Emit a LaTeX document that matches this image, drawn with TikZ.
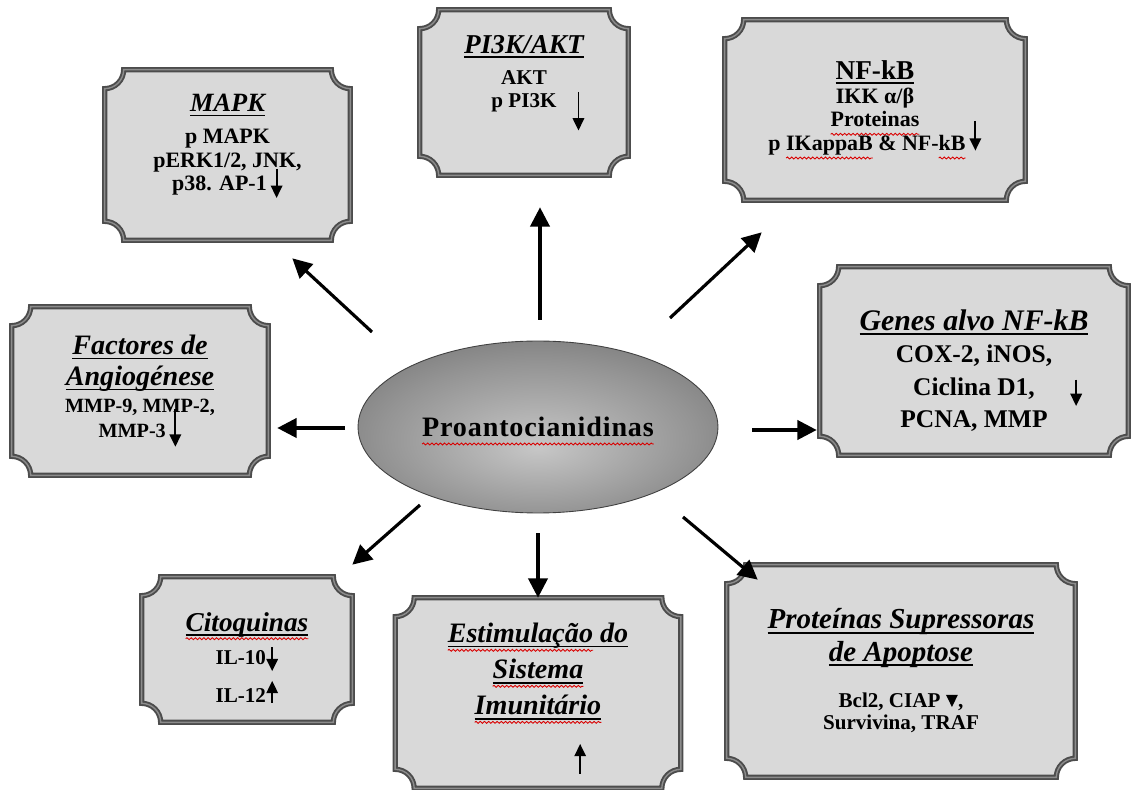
\documentclass[tikz,border=0pt]{standalone}
\usepackage{fontspec}
\setmainfont{Liberation Serif}
\usetikzlibrary{arrows.meta,shapes.geometric,calc,backgrounds,decorations.pathmorphing}

\tikzset{
  smallarr/.style={line width=1.1pt, -{Triangle[length=7pt,width=6.5pt]}},
  squig/.style={red!85!black, line width=0.5pt, decorate, decoration={snake, amplitude=0.55pt, segment length=2.4pt}}
}
\pgfdeclareradialshading{ovalshade}{\pgfpoint{0bp}{-6bp}}{color(0bp)=(black!22); color(22bp)=(black!42); color(50bp)=(black!70)}

% notch radius of the boxes
\newcommand{\notch}{0.38cm}
% small vertical arrow inside the text: [reserved depth]{from}{to}
\newcommand{\vpil}[3][0pt]{\tikz[baseline=0pt]{\path (-3.5pt,0pt) rectangle (3.5pt,#1);\draw[smallarr,overlay] (0pt,#2) -- (0pt,#3);}}
% underlined italic title
\newcommand{\ttl}[2][15]{{\fontsize{#1}{#1}\selectfont\itshape\setbox0\hbox{#2}\rlap{\rule[-2.6pt]{\wd0}{0.9pt}}\box0}}
% red wavy line under a word
\newlength{\sqw}
\newcommand{\sq}[1]{\settowidth{\sqw}{#1}\rlap{\tikz[baseline=0pt,overlay]\draw[squig] (0pt,-4.2pt) -- (\sqw,-4.2pt);}#1}
% box with concave corners round a node
\newcommand{\plaque}[1]{%
  \draw[plaqueline] ($(#1.north west)+(\notch,0)$)
    -- ($(#1.north east)+(-\notch,0)$) arc[start angle=180, end angle=270, radius=\notch]
    -- ($(#1.south east)+(0,\notch)$) arc[start angle=90, end angle=180, radius=\notch]
    -- ($(#1.south west)+(\notch,0)$) arc[start angle=0, end angle=90, radius=\notch]
    -- ($(#1.north west)+(0,-\notch)$) arc[start angle=270, end angle=360, radius=\notch]
    -- cycle;}

\begin{document}
\begin{tikzpicture}[x=0.02cm, y=-0.02cm,
  box/.style={align=center, inner sep=0pt, font=\fontsize{12.5}{13.5}\selectfont\bfseries},
  plaqueline/.style={draw=black!70, line width=1.1pt, double=black!45, double distance=0.8pt, fill=black!15},
  arr/.style={line width=1.8pt, -{Triangle[length=11pt,width=11pt]}}
]
\useasboundingbox (0,0) rectangle (1134,790);

% centre
\node[ellipse, draw=black!75, line width=0.5pt, shading=ovalshade, minimum width=7.2cm, minimum height=3.44cm, inner sep=0pt,
  font=\fontsize{16}{18}\selectfont\bfseries\addfontfeature{LetterSpace=3}] (pro) at (538,427) {\sq{Proantocianidinas}};

% boxes
\node[box, minimum width=4.9cm, minimum height=3.4cm] (mapk) at (227.5,155)
  {\ttl{MAPK}\\[4.5pt] p MAPK\\ pERK1/2, JNK,\\ p38. AP-1\,\vpil[-14pt]{12.5pt}{-4pt}};
\node[box, font=\fontsize{12}{13}\selectfont\bfseries, minimum width=4.16cm, minimum height=3.3cm] (pik) at (524,92.5)
  {\ttl[15.5]{PI3K/AKT}\\[5pt] AKT\\ p PI3K\rlap{\hspace{9pt}\vpil[-24pt]{9pt}{-13pt}}};
\node[box, minimum width=6cm, minimum height=3.6cm] (nfkb) at (875,110)
  {\ttl[15.5]{\upshape NF-kB}\\ IKK α/β\\ \sq{Proteinas}\\ p \sq{IKappaB} \& NF-\sq{kB}\,\vpil[-5pt]{17pt}{0pt}};
\node[box, font=\fontsize{11.5}{14}\selectfont\bfseries, minimum width=5.12cm, minimum height=3.36cm] (fact) at (140,391)
  {\ttl[16]{Factores de}\\[3.6pt] \ttl[16]{Angiogénese}\\[1.3pt] MMP-9, MMP-2,\\ MMP-3\,\vpil[-5.5pt]{16pt}{-5.5pt}};
\node[box, font=\fontsize{14.5}{18.5}\selectfont\bfseries, minimum width=6.16cm, minimum height=3.76cm] (genes) at (974,361)
  {\rule{0pt}{23pt}\ttl[17]{Genes alvo NF-kB}\\ COX-2, iNOS,\\ Ciclina D1,\rlap{\hspace{20pt}\vpil{9pt}{-6pt}}\\ PCNA, MMP};
\node[box, font=\fontsize{12}{13}\selectfont\bfseries, minimum width=4.2cm, minimum height=2.9cm] (cito) at (247,649.5)
  {\rule{0pt}{20pt}\ttl[15.5]{\sq{Citoquinas}}\\[5.7pt] IL-10\vpil{9.6pt}{-4pt}\\[9pt] IL-12\vpil{0pt}{12.5pt}};
\node[box, font=\fontsize{16}{20.5}\selectfont\bfseries, minimum width=5.7cm, minimum height=3.8cm] (estim) at (538,693)
  {\rule{0pt}{17.5pt}\ttl[16]{\sq{Estimulação} do}\\ \ttl[16]{\sq{Sistema}}\\ \ttl[16]{\sq{Imunitário}}\\[13pt] \hspace*{48pt}\vpil{0pt}{17pt}};
\node[box, font=\fontsize{12}{13}\selectfont\bfseries, minimum width=6.96cm, minimum height=4.24cm] (prot) at (901,671)
  {\ttl[16.5]{Proteínas Supressoras}\\[2.5pt] \ttl[16.5]{de Apoptose}\\[13pt] Bcl2, CIAP~\vpil{7pt}{0pt},\\ Survivina, TRAF};

\begin{scope}[on background layer]
\foreach \bx in {mapk,pik,nfkb,fact,genes,cito,estim,prot} {\plaque{\bx}}
\end{scope}

% arrows
\draw[arr] ([shift={(-166,-95)}]pro.center) -- ([shift={(-58,18)}]mapk.south east);
\draw[arr] ([shift={(2,-107)}]pro.center) -- ([shift={(16,32)}]pik.south);
\draw[arr] ([shift={(132,-109)}]pro.center) -- ([shift={(37,32)}]nfkb.south west);
\draw[arr] ([shift={(-193,1)}]pro.center) -- ([shift={(9,37)}]fact.east);
\draw[arr] ([shift={(214,3)}]pro.center) -- ([shift={(-3,69)}]genes.west);
\draw[arr] ([shift={(-118,78)}]pro.center) -- ([shift={(0,-12)}]cito.north east);
\draw[arr] ([shift={(0,20)}]pro.south) -- (estim.north);
\draw[arr] ([shift={(145,90)}]pro.center) -- ([shift={(31,15)}]prot.north west);
\end{tikzpicture}
\end{document}
